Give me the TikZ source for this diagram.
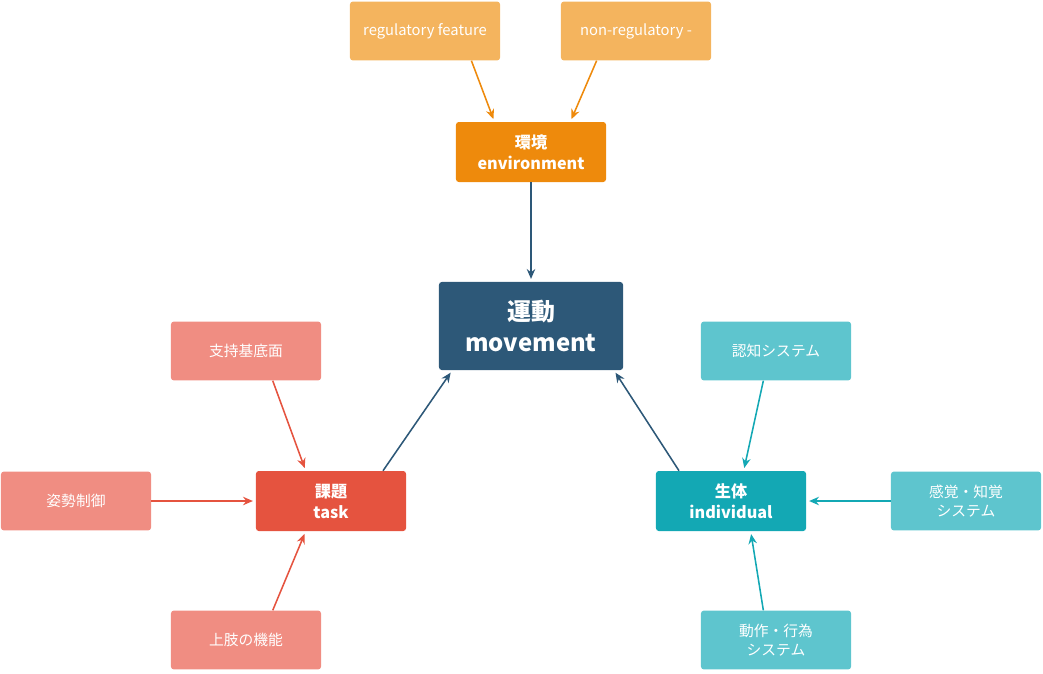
\documentclass[tikz,border=0pt]{standalone}
\usepackage{fontspec}
\setmainfont{Noto Sans CJK JP}
\usetikzlibrary{arrows.meta, positioning}

\definecolor{envorange}{HTML}{EE8A0C}
\definecolor{envlight}{HTML}{F4B45E}
\definecolor{movblue}{HTML}{2D5878}
\definecolor{taskred}{HTML}{E5533F}
\definecolor{tasklight}{HTML}{F08D82}
\definecolor{indteal}{HTML}{13A8B4}
\definecolor{indlight}{HTML}{5EC5CE}

\begin{document}
\begin{tikzpicture}[
    x=0.025cm, y=-0.025cm,
    box/.style={rounded corners=2pt, minimum width=3.75cm, minimum height=1.47cm,
        align=center, text=white, font=\fontsize{10.5}{13}\selectfont},
    hub/.style={box, minimum height=1.5cm, font=\bfseries\fontsize{11.5}{15}\selectfont},
    link/.style={-{Stealth[length=7pt, width=6pt]}, line width=1.1pt, shorten >=2pt}
]
\useasboundingbox (0,0) rectangle (1043,673);

% Zentrum
\node[box, fill=movblue, minimum width=4.6cm, minimum height=2.2cm,
    font=\bfseries\fontsize{17}{22}\selectfont] (movement) at (531,326) {運動\\movement};

% Umwelt
\node[hub, fill=envorange] (env) at (531,152) {環境\\environment};
\node[box, fill=envlight] (reg) at (425,31) {regulatory feature};
\node[box, fill=envlight] (nonreg) at (636,31) {non-regulatory -};

% Aufgabe
\node[hub, fill=taskred] (task) at (331,501) {課題\\task};
\node[box, fill=tasklight] (base) at (246,351) {支持基底面};
\node[box, fill=tasklight] (posture) at (76,501) {姿勢制御};
\node[box, fill=tasklight] (limb) at (246,640) {上肢の機能};

% Individuum
\node[hub, fill=indteal] (indiv) at (731,501) {生体\\individual};
\node[box, fill=indlight] (cogn) at (776,351) {認知システム};
\node[box, fill=indlight] (sense) at (966,501) {感覚・知覚\\システム};
\node[box, fill=indlight] (action) at (776,640) {動作・行為\\システム};

% Pfeile
\draw[link, envorange] ([xshift=30\pgflinewidth]reg.south) -- ([xshift=-26]env.north);
\draw[link, envorange] ([xshift=-28]nonreg.south) -- ([xshift=28]env.north);
\draw[link, movblue] (env) -- (movement);
\draw[link, movblue] ([xshift=37]task.north) -- ([xshift=-56]movement.south);
\draw[link, movblue] ([xshift=-37]indiv.north) -- ([xshift=59]movement.south);

\draw[link, taskred] ([xshift=19]base.south) -- ([xshift=-18]task.north);
\draw[link, taskred] (posture) -- (task);
\draw[link, taskred] ([xshift=19]limb.north) -- ([xshift=-18]task.south);

\draw[link, indteal] ([xshift=-9]cogn.south) -- ([xshift=9]indiv.north);
\draw[link, indteal] (sense) -- (indiv);
\draw[link, indteal] ([xshift=-9]action.north) -- ([xshift=14]indiv.south);
\end{tikzpicture}
\end{document}
